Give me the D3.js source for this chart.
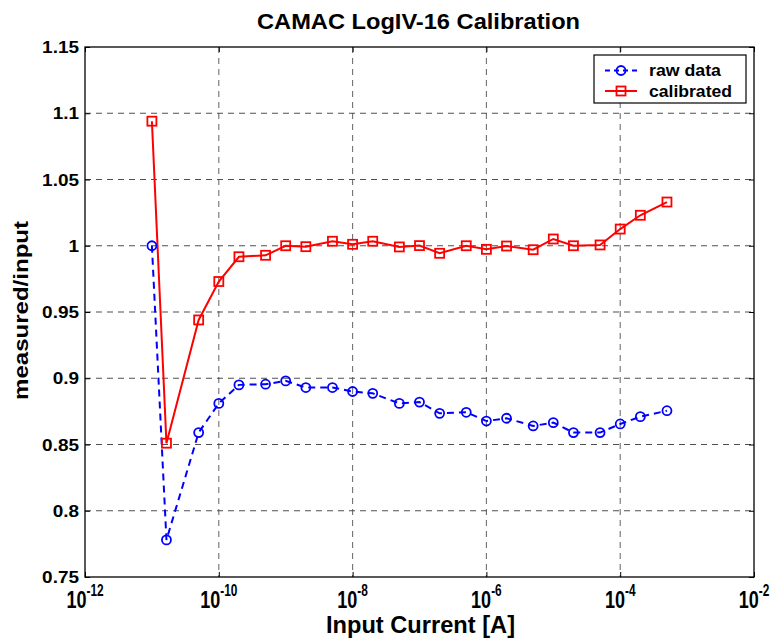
<!DOCTYPE html>
<html>
<head>
<meta charset="utf-8">
<script src="https://cdn.jsdelivr.net/npm/d3@7"></script>
<style>
  html, body { margin: 0; padding: 0; background: #fff; }
  svg { display: block; font-family: "Liberation Sans", Arial, sans-serif; font-weight: bold; }
</style>
</head>
<body>
<svg id="chart" width="772" height="638"></svg>
<script>
// ---- data ----
const currents = [1e-11, 1.65e-11, 5e-11, 1e-10, 2e-10, 5e-10, 1e-9, 2e-9, 5e-9,
                  1e-8, 2e-8, 5e-8, 1e-7, 2e-7, 5e-7, 1e-6, 2e-6, 5e-6,
                  1e-5, 2e-5, 5e-5, 1e-4, 2e-4, 5e-4];
const rawData = [1.000, 0.778, 0.859, 0.881, 0.895, 0.8955, 0.898, 0.893, 0.893,
                 0.890, 0.8886, 0.881, 0.882, 0.8735, 0.8743, 0.8677, 0.8698, 0.864,
                 0.8665, 0.859, 0.859, 0.8655, 0.871, 0.8755];
const calibrated = [1.094, 0.851, 0.944, 0.973, 0.9917, 0.9928, 1.000, 0.9993, 1.0034,
                    1.0011, 1.0034, 0.9991, 1.0001, 0.9943, 1.000, 0.9973, 0.9998, 0.997,
                    1.0051, 1.000, 1.0006, 1.0126, 1.023, 1.033];
const xTickExps = [-12, -10, -8, -6, -4, -2];
const yTicks = [0.75, 0.8, 0.85, 0.9, 0.95, 1, 1.05, 1.1, 1.15];
const seriesNames = ["raw data", "calibrated"];
const titleText = "CAMAC LogIV-16 Calibration";
const xLabel = "Input Current [A]";
const yLabel = "measured/input";

// ---- layout ----
const L = 85, R = 754, T = 47, B = 577;
const svg = d3.select("#chart");
const x = d3.scaleLog().domain([1e-12, 1e-2]).range([L, R]);
const y = d3.scaleLinear().domain([0.75, 1.15]).range([B, T]);

// grid
const grid = svg.append("g");
grid.selectAll("line.vx").data(xTickExps.slice(1, -1)).join("line")
  .attr("x1", d => x(Math.pow(10, d))).attr("x2", d => x(Math.pow(10, d)))
  .attr("y1", T).attr("y2", B)
  .attr("stroke", "#707070").attr("stroke-width", 1.1).attr("stroke-dasharray", "6,5");
grid.selectAll("line.hy").data(yTicks.slice(1, -1)).join("line")
  .attr("x1", L).attr("x2", R)
  .attr("y1", d => y(d)).attr("y2", d => y(d))
  .attr("stroke", "#505050").attr("stroke-width", 1.1).attr("stroke-dasharray", "6,5");

// axes (ticks inward)
const tickLen = 5;
const xAxisB = d3.axisBottom(x).tickValues(xTickExps.map(e => Math.pow(10, e)))
  .tickSizeInner(-tickLen).tickSizeOuter(0).tickFormat("");
const xAxisT = d3.axisTop(x).tickValues(xTickExps.map(e => Math.pow(10, e)))
  .tickSizeInner(-tickLen).tickSizeOuter(0).tickFormat("");
const yAxisL = d3.axisLeft(y).tickValues(yTicks).tickSizeInner(-tickLen).tickSizeOuter(0).tickFormat("");
const yAxisR = d3.axisRight(y).tickValues(yTicks).tickSizeInner(-tickLen).tickSizeOuter(0).tickFormat("");
[[xAxisB, `translate(0,${B})`], [xAxisT, `translate(0,${T})`],
 [yAxisL, `translate(${L},0)`], [yAxisR, `translate(${R},0)`]].forEach(([ax, tr]) => {
  const g = svg.append("g").attr("transform", tr).call(ax);
  g.select(".domain").remove();
  g.selectAll("line").attr("stroke", "#000");
});
svg.append("rect").attr("x", L).attr("y", T).attr("width", R - L).attr("height", B - T)
  .attr("fill", "none").attr("stroke", "#000").attr("stroke-width", 1.3);

// y tick labels (slightly wide glyphs as in the reference)
svg.append("g").selectAll("text").data(yTicks).join("text")
  .attr("transform", d => `translate(${L - 6},${y(d) + 6}) scale(1.15,1)`)
  .attr("text-anchor", "end").attr("font-size", 16.5)
  .text(d => String(d));

// x tick labels with superscripts (tall glyphs as in the reference)
const xl = svg.append("g").selectAll("text").data(xTickExps).join("text")
  .attr("transform", d => `translate(${x(Math.pow(10, d))},608) scale(0.95,1.3)`)
  .attr("text-anchor", "middle");
xl.append("tspan").attr("font-size", 19).text("10");
xl.append("tspan").attr("font-size", 12.5).attr("dy", -9).text(d => String(d));

// title and axis labels
svg.append("text").attr("x", 418.5).attr("y", 29).attr("text-anchor", "middle")
  .attr("font-size", 22).attr("textLength", 323).attr("lengthAdjust", "spacingAndGlyphs")
  .text(titleText);
svg.append("text").attr("x", 420.5).attr("y", 633).attr("text-anchor", "middle")
  .attr("font-size", 23).attr("textLength", 189).attr("lengthAdjust", "spacingAndGlyphs")
  .text(xLabel);
svg.append("text").attr("transform", `translate(28,310.5) rotate(-90)`)
  .attr("text-anchor", "middle").attr("font-size", 21)
  .attr("textLength", 179).attr("lengthAdjust", "spacingAndGlyphs").text(yLabel);

// lines
const pts = vals => currents.map((c, i) => [c, vals[i]]);
const line = d3.line().x(d => x(d[0])).y(d => y(d[1]));
svg.append("path").datum(pts(rawData)).attr("d", line)
  .attr("fill", "none").attr("stroke", "#0000ff").attr("stroke-width", 2)
  .attr("stroke-dasharray", "7,5");
svg.append("path").datum(pts(calibrated)).attr("d", line)
  .attr("fill", "none").attr("stroke", "#ff0000").attr("stroke-width", 2);

// markers
svg.append("g").selectAll("circle").data(pts(rawData)).join("circle")
  .attr("cx", d => x(d[0])).attr("cy", d => y(d[1])).attr("r", 4.5)
  .attr("fill", "none").attr("stroke", "#0000ff").attr("stroke-width", 1.8);
const sq = 9;
svg.append("g").selectAll("rect").data(pts(calibrated)).join("rect")
  .attr("x", d => x(d[0]) - sq / 2).attr("y", d => y(d[1]) - sq / 2)
  .attr("width", sq).attr("height", sq)
  .attr("fill", "none").attr("stroke", "#ff0000").attr("stroke-width", 1.8);

// legend
const lg = svg.append("g");
lg.append("rect").attr("x", 594).attr("y", 55).attr("width", 152).attr("height", 48)
  .attr("fill", "#fff").attr("stroke", "#000").attr("stroke-width", 1.2);
const rows = [{ y: 70.5, ty: 76, len: 72, color: "#0000ff", dash: "5,4", marker: "circle" },
              { y: 91, ty: 96.5, len: 83, color: "#ff0000", dash: null, marker: "square" }];
rows.forEach((r, i) => {
  lg.append("line").attr("x1", 605).attr("x2", 637).attr("y1", r.y).attr("y2", r.y)
    .attr("stroke", r.color).attr("stroke-width", 2).attr("stroke-dasharray", r.dash);
  if (r.marker === "circle") {
    lg.append("circle").attr("cx", 621).attr("cy", r.y).attr("r", 4.5)
      .attr("fill", "none").attr("stroke", r.color).attr("stroke-width", 1.8);
  } else {
    lg.append("rect").attr("x", 621 - sq / 2).attr("y", r.y - sq / 2).attr("width", sq).attr("height", sq)
      .attr("fill", "none").attr("stroke", r.color).attr("stroke-width", 1.8);
  }
  lg.append("text").attr("x", 649).attr("y", r.ty).attr("font-size", 17)
    .attr("textLength", r.len).attr("lengthAdjust", "spacingAndGlyphs").text(seriesNames[i]);
});
</script>
</body>
</html>
